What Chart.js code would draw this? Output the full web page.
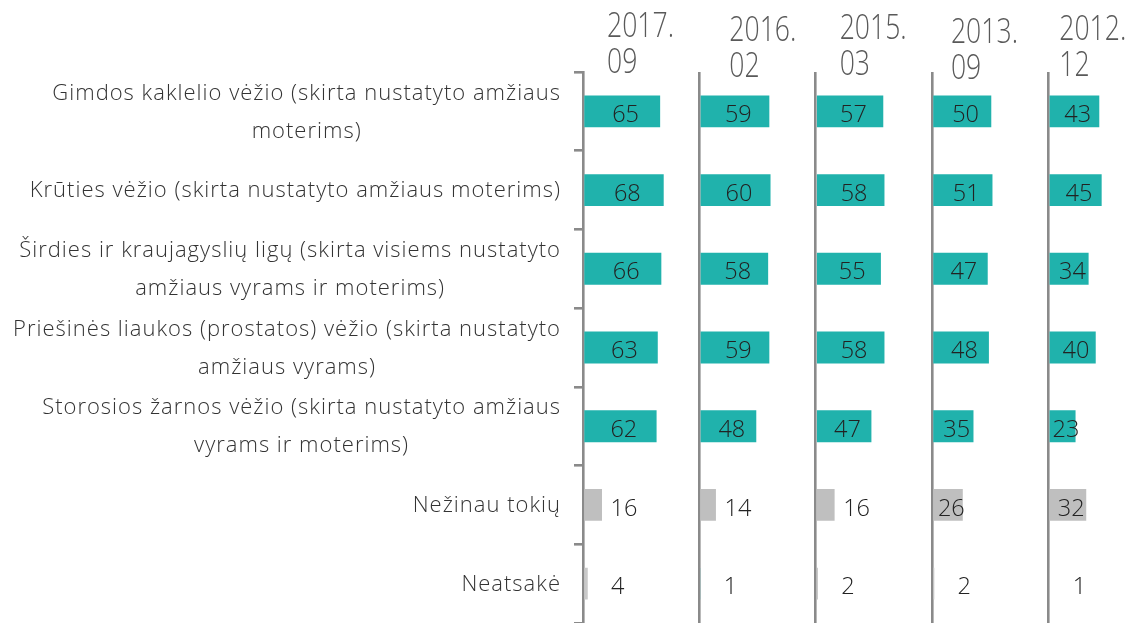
<!DOCTYPE html>
<html>
<head>
<meta charset="utf-8">
<script src="https://cdn.jsdelivr.net/npm/chart.js@4.4.1/dist/chart.umd.min.js"></script>
<style>
  html, body { margin: 0; padding: 0; background: #ffffff; overflow: hidden; }
  #wrap { position: relative; width: 1132px; height: 623px; }
</style>
</head>
<body>
<div id="wrap"><canvas id="c" width="1132" height="623"></canvas></div>
<script>
// ---------- DATA ----------
const categories = [
  ["Gimdos kaklelio vėžio (skirta nustatyto amžiaus", "moterims)"],
  ["Krūties vėžio (skirta nustatyto amžiaus moterims)"],
  ["Širdies ir kraujagyslių ligų (skirta visiems nustatyto", "amžiaus vyrams ir moterims)"],
  ["Priešinės liaukos (prostatos) vėžio (skirta nustatyto", "amžiaus vyrams)"],
  ["Storosios žarnos vėžio (skirta nustatyto amžiaus", "vyrams ir moterims)"],
  ["Nežinau tokių"],
  ["Neatsakė"]
];
const periods = [["2017.", "09"], ["2016.", "02"], ["2015.", "03"], ["2013.", "09"], ["2012.", "12"]];
const values2017_09 = [65, 68, 66, 63, 62, 16, 4];
const values2016_02 = [59, 60, 58, 59, 48, 14, 1];
const values2015_03 = [57, 58, 55, 58, 47, 16, 2];
const values2013_09 = [50, 51, 47, 48, 35, 26, 2];
const values2012_12 = [43, 45, 34, 40, 23, 32, 1];
const seriesValues = [values2017_09, values2016_02, values2015_03, values2013_09, values2012_12];

// ---------- STYLE ----------
const TEAL = '#20B2AC';
const GRAY = '#BFBFBF';
const GRAY_LIGHT = '#C9C9C9';
const AXIS = '#8A8A8A';
const LABEL_FONT = '"Open Sans", "Noto Sans", sans-serif';
function barColor(panel, i) {
  if (i < 5) return TEAL;
  if (i === 5) return GRAY;
  return panel === 1 ? TEAL : GRAY_LIGHT;   // 2016.02 "Neatsakė" bar drawn in teal
}
const PANEL_MAX = 98;
const panelWeights = [1, 1, 1, 1, 0.72];
const titleOffsets = [[24, 13], [30, 17], [24, 15], [19, 19], [11, 16]];

const xScales = {};
seriesValues.forEach((_, p) => {
  xScales['x' + p] = {
    type: 'linear',
    position: 'bottom',
    stack: 'panels',
    stackWeight: panelWeights[p],
    min: 0,
    max: PANEL_MAX * panelWeights[p],
    ticks: { display: false },
    border: { display: false },
    grid: {
      drawTicks: false,
      lineWidth: 2.6,
      color: ctx => (ctx.tick && ctx.tick.value === 0 && p > 0) ? AXIS : 'rgba(0,0,0,0)'
    }
  };
});

const datasets = seriesValues.map((vals, p) => ({
  label: periods[p].join(''),
  data: vals,
  xAxisID: 'x' + p,
  yAxisID: 'y',
  grouped: false,
  backgroundColor: vals.map((_, i) => barColor(p, i)),
  borderWidth: 0,
  barPercentage: 0.405,
  categoryPercentage: 1
}));

const overlayPlugin = {
  id: 'overlay',
  afterDraw(chart) {
    const ctx = chart.ctx;
    const y = chart.scales.y;
    ctx.save();
    // category labels (right-aligned block, centered lines)
    ctx.font = '300 22px ' + LABEL_FONT;
    if ('letterSpacing' in ctx) ctx.letterSpacing = '1px';
    ctx.fillStyle = '#333333';
    ctx.textBaseline = 'middle';
    ctx.textAlign = 'center';
    const rightEdge = 561, lh = 38;
    categories.forEach((lines, i) => {
      const cy = y.getPixelForValue(i);
      const maxW = Math.max(...lines.map(l => ctx.measureText(l).width));
      const cx = rightEdge - maxW / 2;
      lines.forEach((l, k) => {
        ctx.fillText(l, cx, cy + (k - (lines.length - 1) / 2) * lh + 1);
      });
    });
    if ('letterSpacing' in ctx) ctx.letterSpacing = '0px';
    // data labels
    ctx.font = '300 23.5px ' + LABEL_FONT;
    ctx.fillStyle = '#222222';
    seriesValues.forEach((vals, p) => {
      const xs = chart.scales['x' + p];
      const base = xs.getPixelForValue(0);
      vals.forEach((v, i) => {
        const end = xs.getPixelForValue(v);
        let tx;
        if (v >= 20) tx = (base + end) / 2 + 4;
        else if (v >= 10) tx = end + 22;
        else tx = end + 30;
        ctx.fillText(String(v), tx, y.getPixelForValue(i) + 4);
      });
    });
    // panel titles (condensed)
    ctx.font = '300 35px ' + LABEL_FONT;
    ctx.fillStyle = '#595959';
    ctx.textAlign = 'left';
    ctx.textBaseline = 'top';
    periods.forEach((lines, p) => {
      const ax = chart.scales['x' + p].getPixelForValue(0);
      const [dx, dy] = titleOffsets[p];
      lines.forEach((l, k) => {
        ctx.save();
        ctx.translate(ax + dx, dy - 3 + k * 36);
        ctx.scale(0.76, 1);
        ctx.fillText(l, 0, 0);
        ctx.restore();
      });
    });
    ctx.restore();
  }
};

new Chart(document.getElementById('c'), {
  type: 'bar',
  data: { labels: categories, datasets },
  options: {
    indexAxis: 'y',
    responsive: false,
    animation: false,
    layout: { padding: { top: 72, left: 0, right: 0, bottom: -2 } },
    plugins: { legend: { display: false }, tooltip: { enabled: false }, title: { display: false } },
    scales: Object.assign({
      y: {
        type: 'category',
        position: 'left',
        offset: true,
        ticks: { display: false },
        border: { display: true, color: AXIS, width: 2.6 },
        grid: { drawOnChartArea: false, drawTicks: true, tickLength: 9, offset: true, color: AXIS, lineWidth: 2.6 },
        afterFit(scale) { scale.width = 583; }
      }
    }, xScales)
  },
  plugins: [overlayPlugin]
});
</script>
</body>
</html>
